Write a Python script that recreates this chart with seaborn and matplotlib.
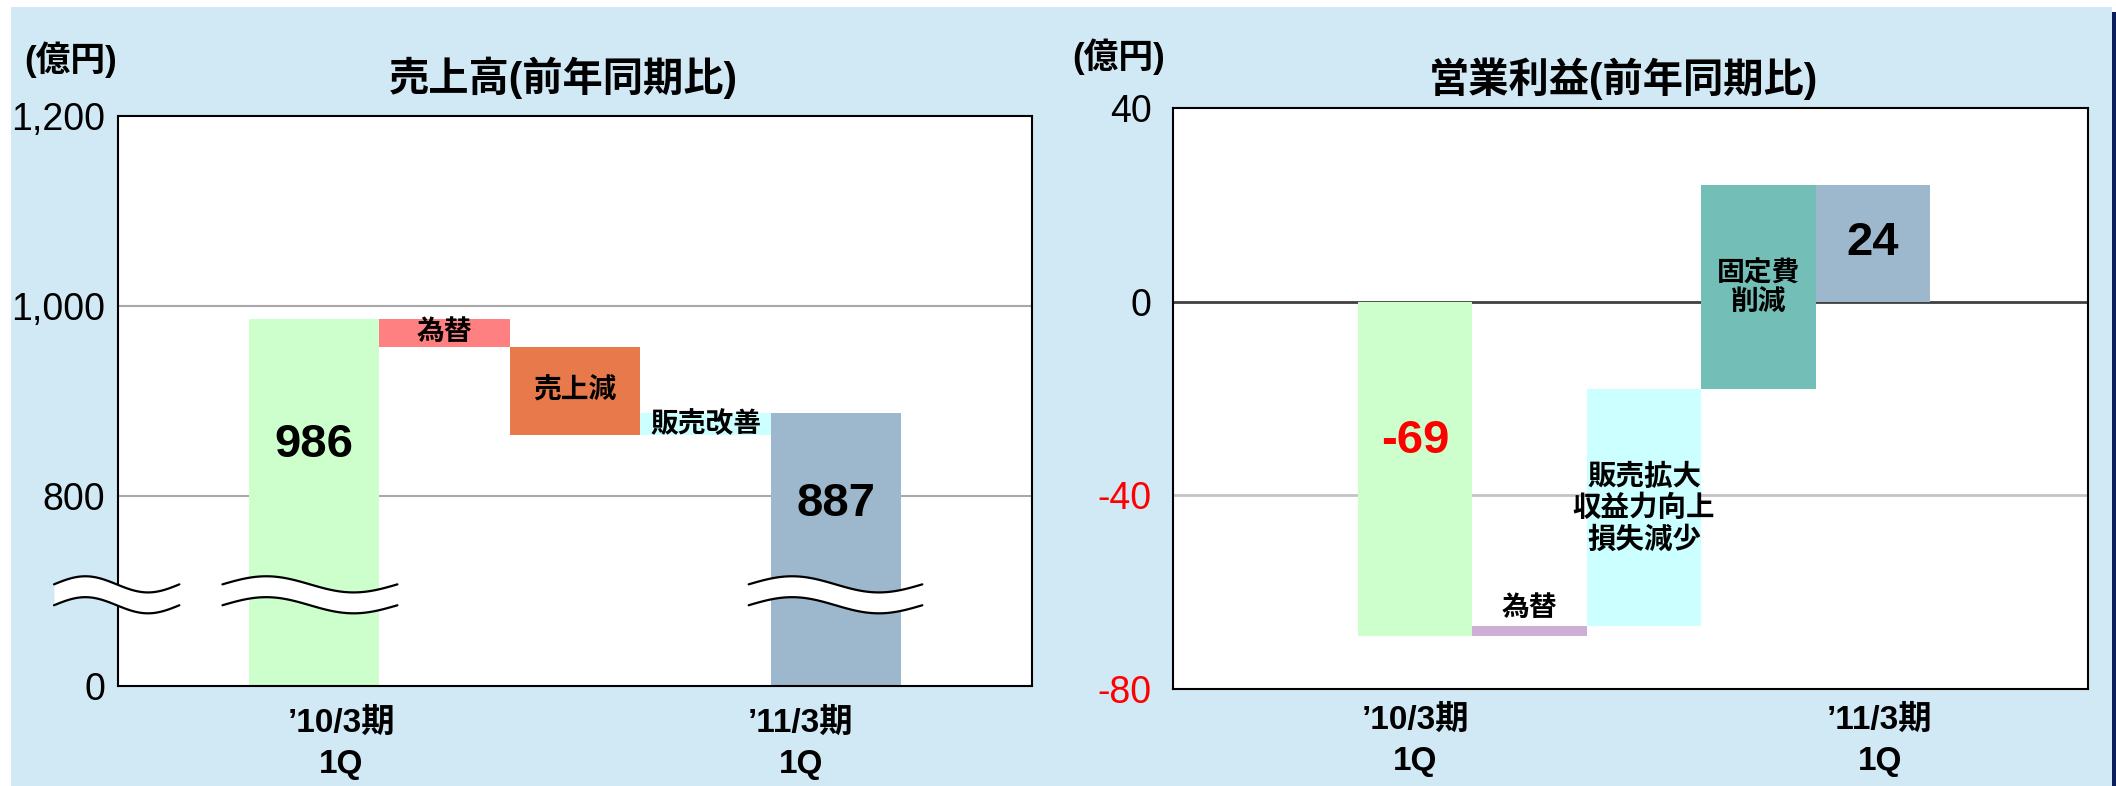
import numpy as np
import matplotlib
matplotlib.use("Agg")
import matplotlib.pyplot as plt
from matplotlib.patches import Rectangle
from matplotlib.transforms import ScaledTranslation
import seaborn as sns

# ---------------- data ----------------
# 売上高 (sales) waterfall, 億円
sales_steps = ["’10/3期 1Q", "為替", "売上減", "販売改善", "’11/3期 1Q"]
sales_start = 986
sales_deltas = [-29, -93, 23]
sales_end = 887
sales_bar_text = ["986", "為替", "売上減", "販売改善", "887"]

# 営業利益 (operating profit) waterfall, 億円
op_steps = ["’10/3期 1Q", "為替", "販売拡大", "固定費削減", "’11/3期 1Q"]
op_start = -69
op_deltas = [2, 49, 42]
op_end = 24
op_bar_text = ["-69", "為替", "販売拡大\n収益力向上\n損失減少", "固定費\n削減", "24"]

period_labels = ["’10/3期\n1Q", "’11/3期\n1Q"]

# sales axis is broken: the lowest tick stands for 0
sales_yticks = [600, 800, 1000, 1200]
sales_yticklabels = ["0", "800", "1,000", "1,200"]
op_yticks = [-80, -40, 0, 40]
op_yticklabels = ["-80", "-40", "0", "40"]

sales_title = "売上高(前年同期比)"
op_title = "営業利益(前年同期比)"
unit_label = "(億円)"

sales_colors = ["#CCFFCC", "#FF8080", "#E8794A", "#CCFFFF", "#9DB7CC"]
op_colors = ["#CCFFCC", "#CCAED6", "#CCFFFF", "#73BFB8", "#9DB7CC"]

# ---------------- style ----------------
sns.set_style("white")
FAM = ["Liberation Sans", "Noto Sans CJK JP"]
plt.rcParams["font.family"] = FAM
plt.rcParams["text.color"] = "black"
plt.rcParams["xtick.color"] = "black"
plt.rcParams["ytick.color"] = "black"
plt.rcParams["axes.labelcolor"] = "black"

W, H = 2116, 786
fig = plt.figure(figsize=(W / 100, H / 100), dpi=100, facecolor="white")

# panel background
fig.patches.append(Rectangle((11 / W, 0), (2112 - 11) / W, (H - 7) / H,
                             transform=fig.transFigure, facecolor="#D1E8F5",
                             edgecolor="none", zorder=-10))
fig.patches.append(Rectangle((2112 / W, 0), 4 / W, (H - 12) / H,
                             transform=fig.transFigure, facecolor="#0B1F5C",
                             edgecolor="none", zorder=-10))


def px_axes(x0, x1, y0, y1):
    return fig.add_axes([x0 / W, 1 - y1 / H, (x1 - x0) / W, (y1 - y0) / H])


def waterfall(start, deltas, end):
    bottoms, heights = [0], [start]
    level = start
    for d in deltas:
        new = level + d
        bottoms.append(min(level, new))
        heights.append(abs(d))
        level = new
    bottoms.append(0)
    heights.append(end)
    return np.array(bottoms, float), np.array(heights, float)


def draw(ax, steps, start, deltas, end, colors):
    bottoms, heights = waterfall(start, deltas, end)
    sns.barplot(x=steps, y=heights, bottom=bottoms, color=colors[0],
                facecolor=colors, width=1.0, errorbar=None, linewidth=0,
                edgecolor="none", ax=ax, zorder=2)
    return bottoms, heights


def style_axes(ax, yticks, yticklabels, ylim, xlim, ypad, xpad, ytick_colors):
    ax.set_facecolor("white")
    ax.set_xlim(*xlim)
    ax.set_ylim(*ylim)
    ax.set_yticks(yticks)
    ax.set_yticklabels(yticklabels, fontsize=27, family=FAM)
    for lbl, c in zip(ax.get_yticklabels(), ytick_colors):
        lbl.set_color(c)
        lbl.set_transform(lbl.get_transform() +
                          ScaledTranslation(0, -5 / 100, fig.dpi_scale_trans))
    ax.tick_params(axis="y", length=0, pad=ypad)
    ax.tick_params(axis="x", length=0, pad=xpad)
    ax.set_xlabel("")
    ax.set_ylabel("")
    for s in ax.spines.values():
        s.set_visible(True)
        s.set_color("black")
        s.set_linewidth(1.5)
        s.set_zorder(5)


# ---------------- left: sales ----------------
ax1 = px_axes(118, 1032, 116, 686)
b1, h1 = draw(ax1, sales_steps, sales_start, sales_deltas, sales_end, sales_colors)
for yv in [800, 1000]:
    ax1.axhline(yv, color="#A8A8A8", lw=1.5, zorder=1)
style_axes(ax1, sales_yticks, sales_yticklabels, (600, 1200), (-1.5, 5.5),
           9, 15.5, ["black"] * 4)
ax1.set_xticks([0.21, 3.73])
ax1.set_xticklabels(period_labels, fontsize=24, fontweight="bold", family=FAM,
                    linespacing=1.45, color="black")

sales_text_y = [854, None, None, None, 792]
for i, t in enumerate(sales_bar_text):
    if sales_text_y[i] is not None:
        ax1.text(i, sales_text_y[i], t, ha="center", va="center", fontsize=34,
                 fontweight="bold", color="black", zorder=6)
    else:
        ax1.text(i, b1[i] + h1[i] / 2, t, ha="center", va="center",
                 fontsize=20, fontweight="bold", color="black", zorder=6)

# break marks (wavy double lines)
def break_mark(ax, xa, xb, yc_top, yc_bot, amp):
    xs = np.linspace(xa, xb, 120)
    tt = (xs - xa) / (xb - xa)
    top = yc_top + amp * np.sin(2 * np.pi * tt)
    bot = yc_bot + amp * np.sin(2 * np.pi * tt)
    ax.fill_between(xs, bot, top, color="white", zorder=7, clip_on=False, lw=0)
    ax.plot(xs, top, color="black", lw=1.6, zorder=8, clip_on=False)
    ax.plot(xs, bot, color="black", lw=1.6, zorder=8, clip_on=False)

for xa, xb in [(-1.99, -1.03), (-0.70, 0.64), (3.33, 4.66)]:
    break_mark(ax1, xa, xb, 707, 685, 8.5)

# ---------------- right: operating profit ----------------
ax2 = px_axes(1172.5, 2088, 108, 689)
b2, h2 = draw(ax2, op_steps, op_start, op_deltas, op_end, op_colors)
ax2.axhline(-40, color="#C4C4C4", lw=2, zorder=1)
ax2.axhline(0, color="#404040", lw=2, zorder=1)
style_axes(ax2, op_yticks, op_yticklabels, (-80, 40), (-2.12, 5.88),
           15, 11, ["red", "red", "black", "black"])
ax2.set_xticks([0.0, 4.06])
ax2.set_xticklabels(period_labels, fontsize=24, fontweight="bold", family=FAM,
                    linespacing=1.45, color="black")

op_text_y = [-28.8, -63.5, -42.8, 2.6, 12.1]
op_text_size = [34, 20, 20.5, 20, 34]
op_text_color = ["red", "black", "black", "black", "black"]
for i, t in enumerate(op_bar_text):
    ax2.text(i, op_text_y[i], t, ha="center", va="center",
             fontsize=op_text_size[i], fontweight="bold",
             color=op_text_color[i], linespacing=1.2, zorder=6)

# ---------------- titles / units ----------------
fig.text(563 / W, 1 - 78 / H, sales_title, ha="center", va="center",
         fontsize=29, fontweight="bold", color="black")
fig.text(1623 / W, 1 - 78.5 / H, op_title, ha="center", va="center",
         fontsize=29, fontweight="bold", color="black")
fig.text(71 / W, 1 - 59.5 / H, unit_label, ha="center", va="center",
         fontsize=25, fontweight="bold", color="black")
fig.text(1119 / W, 1 - 57 / H, unit_label, ha="center", va="center",
         fontsize=25, fontweight="bold", color="black")

fig.savefig("out.png", dpi=100, facecolor="white")
